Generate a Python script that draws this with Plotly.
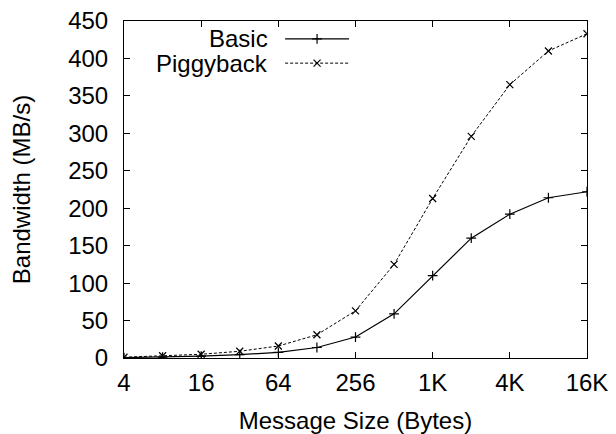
import math
import plotly.graph_objects as go

sizes = [4, 8, 16, 32, 64, 128, 256, 512, 1024, 2048, 4096, 8192, 16384]
basic = [0.5, 1.3, 2.6, 4.4, 7.5, 14, 28, 59, 110, 160, 192, 214, 222]
piggyback = [1, 3, 5, 9, 16, 31, 63, 125, 213, 296, 365, 410, 433]
xtick_vals = [4, 16, 64, 256, 1024, 4096, 16384]
xtick_text = ["4", "16", "64", "256", "1K", "4K", "16K"]
ytick_vals = [0, 50, 100, 150, 200, 250, 300, 350, 400, 450]
series_names = ["Basic", "Piggyback"]

FONT = "Liberation Sans"
FS = 24

fig = go.Figure()
fig.add_trace(go.Scatter(
    x=sizes, y=basic, mode="lines+markers", name=series_names[0],
    line=dict(color="black", width=1.2),
    marker=dict(symbol="cross-thin", size=7, line=dict(color="black", width=1.2)),
    showlegend=False))
fig.add_trace(go.Scatter(
    x=sizes, y=piggyback, mode="lines+markers", name=series_names[1],
    line=dict(color="black", width=1, dash="3px,2px"),
    marker=dict(symbol="x-thin", size=7, line=dict(color="black", width=1.2)),
    showlegend=False))

# custom gnuplot-style legend (text right, sample line left) on overlay axes
leg_y = [0.947, 0.875]
fig.add_trace(go.Scatter(x=[0.348, 0.486], y=[leg_y[0]] * 2, mode="lines",
                         line=dict(color="black", width=1.2), xaxis="x2", yaxis="y2",
                         showlegend=False, hoverinfo="skip"))
fig.add_trace(go.Scatter(x=[0.417], y=[leg_y[0]], mode="markers",
                         marker=dict(symbol="cross-thin", size=7, line=dict(color="black", width=1.2)),
                         xaxis="x2", yaxis="y2", showlegend=False, hoverinfo="skip"))
fig.add_trace(go.Scatter(x=[0.348, 0.486], y=[leg_y[1]] * 2, mode="lines",
                         line=dict(color="black", width=1, dash="3px,2px"), xaxis="x2", yaxis="y2",
                         showlegend=False, hoverinfo="skip"))
fig.add_trace(go.Scatter(x=[0.417], y=[leg_y[1]], mode="markers",
                         marker=dict(symbol="x-thin", size=7, line=dict(color="black", width=1.2)),
                         xaxis="x2", yaxis="y2", showlegend=False, hoverinfo="skip"))
for name, yy in zip(series_names, leg_y):
    fig.add_annotation(x=0.315, y=yy, xref="x2", yref="y2", text=name, showarrow=False,
                       xanchor="right", yanchor="middle", font=dict(family=FONT, size=FS, color="black"))

fig.update_layout(
    width=608, height=426,
    margin=dict(l=116, r=29, t=13, b=76),
    paper_bgcolor="white", plot_bgcolor="white",
    font=dict(family=FONT, size=FS, color="black"),
    xaxis=dict(type="log", range=[math.log10(4), math.log10(16384)],
               tickvals=xtick_vals, ticktext=xtick_text,
               ticks="inside", ticklen=6, tickcolor="black", tickwidth=1,
               showline=True, linecolor="black", linewidth=1, mirror="ticks",
               showgrid=False, zeroline=False, automargin=False,
               ticklabelstandoff=3, ticklabeloverflow="allow",
               title=dict(text="Message Size (Bytes)", standoff=19,
                          font=dict(family=FONT, size=FS, color="black")),
               tickfont=dict(family=FONT, size=FS)),
    yaxis=dict(range=[0, 450], tickvals=ytick_vals,
               ticks="inside", ticklen=6, tickcolor="black", tickwidth=1,
               showline=True, linecolor="black", linewidth=1, mirror="ticks",
               showgrid=False, zeroline=False, automargin=False,
               ticklabeloverflow="allow",
               title=dict(text="Bandwidth (MB/s)", standoff=30,
                          font=dict(family=FONT, size=FS, color="black")),
               tickfont=dict(family=FONT, size=FS), ticklabelstandoff=10),
    xaxis2=dict(overlaying="x", range=[0, 1], visible=False, fixedrange=True),
    yaxis2=dict(overlaying="y", range=[0, 1], visible=False, fixedrange=True),
)

fig.write_html("out.html")
